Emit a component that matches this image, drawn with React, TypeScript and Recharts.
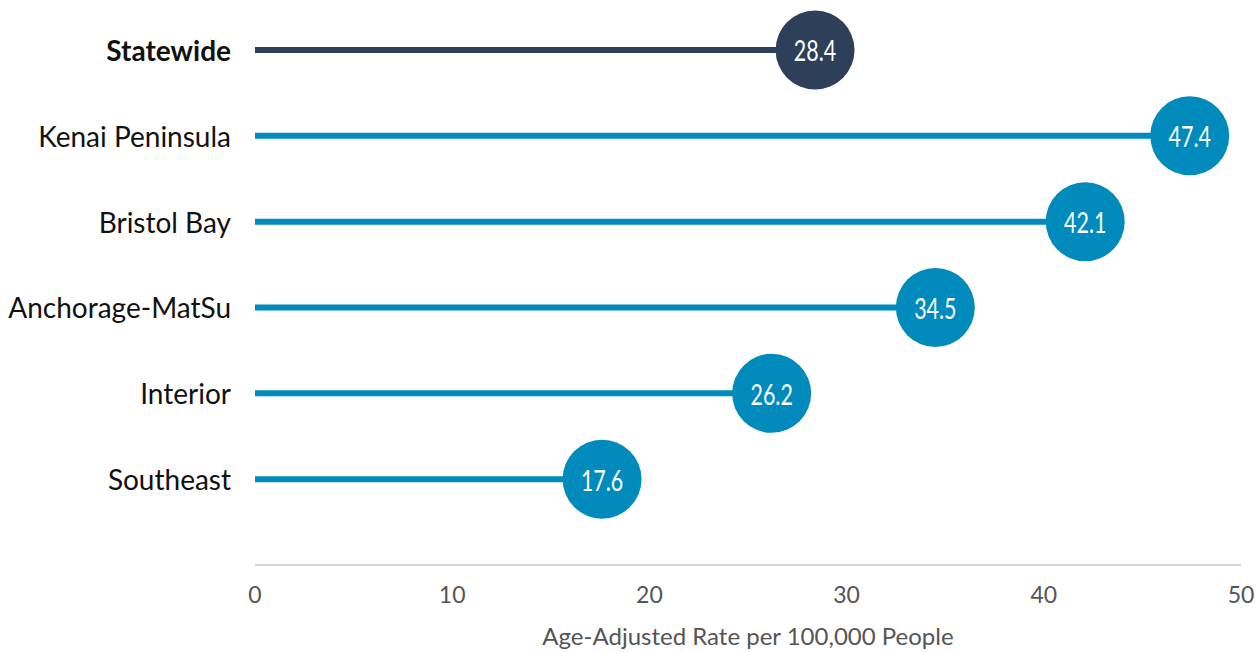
import React from "react";
import { BarChart, Bar, XAxis, YAxis } from "recharts";

const regions = ["Statewide", "Kenai Peninsula", "Bristol Bay", "Anchorage-MatSu", "Interior", "Southeast"];
const rates = [28.4, 47.4, 42.1, 34.5, 26.2, 17.6];
const xTicks = [0, 10, 20, 30, 40, 50];
const axisTitle = "Age-Adjusted Rate per 100,000 People";

const data = regions.map((name, i) => ({ name, value: rates[i] }));

const NAVY = "#2E4059";
const BLUE = "#008BBC";

const Lollipop = (props: any) => {
  const { x, y, width, height, index, value } = props;
  const cy = y + height / 2;
  const cx = x + width;
  const color = index === 0 ? NAVY : BLUE;
  const v = Array.isArray(value) ? value[1] : value;
  return (
    <g>
      <line x1={x} y1={cy} x2={cx} y2={cy} stroke={color} strokeWidth={6} />
      <circle cx={cx} cy={cy} r={39.5} fill={color} />
      <g transform={`translate(${cx},${cy}) scale(0.74,1)`}>
        <text
          x={0}
          y={0}
          textAnchor="middle"
          dominantBaseline="central"
          fill="#fff"
          fontSize={29}
          fontWeight={400}
          fontFamily="Lato, 'Open Sans', sans-serif"
        >
          {Number(v).toFixed(1)}
        </text>
      </g>
    </g>
  );
};

const YTick = (props: any) => {
  const { x, y, payload } = props;
  const bold = payload.value === "Statewide";
  return (
    <text
      x={x}
      y={y}
      textAnchor="end"
      dominantBaseline="central"
      fill="#111"
      fontSize={28}
      fontWeight={bold ? 700 : 400}
      fontFamily="Lato, 'Open Sans', sans-serif"
    >
      {payload.value}
    </text>
  );
};

export default function App() {
  return (
    <div style={{ position: "absolute", left: 0, top: 0, width: 1257, height: 652 }}>
      <BarChart
        width={1257}
        height={652}
        data={data}
        layout="vertical"
        margin={{ top: 7, right: 16, bottom: 0, left: 0 }}
        barCategoryGap={0}
      >
        <XAxis
          type="number"
          domain={[0, 50]}
          ticks={xTicks}
          allowDataOverflow
          axisLine={{ stroke: "#d6d6d6", strokeWidth: 2 }}
          tickLine={false}
          tickSize={0}
          tickMargin={22}
          height={87}
          tick={{ fill: "#555", fontSize: 23, fontFamily: "Lato, 'Open Sans', sans-serif" }}
          label={{
            value: axisTitle,
            position: "insideBottom",
            offset: 7,
            fill: "#555",
            fontSize: 24,
            fontFamily: "Lato, 'Open Sans', sans-serif",
          }}
        />
        <YAxis
          type="category"
          dataKey="name"
          width={255}
          axisLine={false}
          tickLine={false}
          tickSize={0}
          tickMargin={24}
          padding={{ top: 0, bottom: 43 }}
          tick={<YTick />}
          interval={0}
        />
        <Bar dataKey="value" isAnimationActive={false} barSize={6} shape={<Lollipop />} />
      </BarChart>
    </div>
  );
}
